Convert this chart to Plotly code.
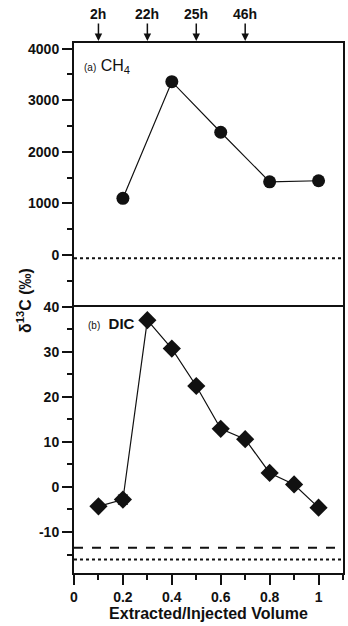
import plotly.graph_objects as go

# Panel (a) CH4
ch4_x = [0.2, 0.4, 0.6, 0.8, 1.0]
ch4_y = [1100, 3360, 2380, 1420, 1440]
ch4_ref = -60

# Panel (b) DIC
dic_x = [0.1, 0.2, 0.3, 0.4, 0.5, 0.6, 0.7, 0.8, 0.9, 1.0]
dic_y = [-4.3, -2.8, 37.0, 30.7, 22.4, 12.9, 10.6, 3.1, 0.55, -4.6]
dic_err = [0, 1.0, 0, 0, 0, 0, 0, 0, 0, 0]
dic_ref_dash = -13.5
dic_ref_dot = -16.1

# tick labels
x_tickvals = [0, 0.2, 0.4, 0.6, 0.8, 1.0]
x_ticktext = ["0", "0.2", "0.4", "0.6", "0.8", "1"]
y1_tickvals = [0, 1000, 2000, 3000, 4000]
y2_tickvals = [-10, 0, 10, 20, 30, 40]
y2_ticktext = ["-10", "0", "10", "20", "30", "40"]

# time markers on top
time_x = [0.1, 0.3, 0.5, 0.7]
time_labels = ["2h", "22h", "25h", "46h"]

FONT = "Liberation Sans"
BLACK = "#111111"

fig = go.Figure()
fig.add_trace(go.Scatter(x=ch4_x, y=ch4_y, mode="lines+markers", xaxis="x2", yaxis="y",
                         line=dict(color=BLACK, width=1.2),
                         marker=dict(symbol="circle", size=13, color=BLACK), showlegend=False))
fig.add_trace(go.Scatter(x=dic_x, y=dic_y, mode="lines+markers", xaxis="x", yaxis="y2",
                         line=dict(color=BLACK, width=1.2),
                         error_y=dict(type="data", array=dic_err, visible=True, color=BLACK,
                                      thickness=1.2, width=5),
                         marker=dict(symbol="diamond", size=14, color=BLACK), showlegend=False))

split = 0.5025
tickfont = dict(family=FONT, size=14, color=BLACK, weight="bold")
axis_common = dict(showline=True, linewidth=2, linecolor=BLACK, mirror=True,
                   ticks="outside", tickwidth=2, tickcolor=BLACK, ticklen=10,
                   showgrid=False, zeroline=False, tickfont=tickfont)

fig.update_layout(
    width=348, height=626,
    margin=dict(l=74, r=3, t=43, b=53),
    plot_bgcolor="white", paper_bgcolor="white",
    xaxis=dict(**axis_common, domain=[0, 1], anchor="y2", range=[0, 1.1],
               tickmode="array", tickvals=x_tickvals, ticktext=x_ticktext,
               minor=dict(ticks="outside", ticklen=5, tickwidth=2, tickcolor=BLACK, dtick=0.1, tick0=0),
               title=dict(text="Extracted/Injected Volume", standoff=2,
                          font=dict(family=FONT, size=16, color=BLACK, weight="bold"))),
    xaxis2=dict(showline=True, linewidth=2, linecolor=BLACK, mirror=False, side="top",
                showgrid=False, zeroline=False, showticklabels=False, ticks="",
                domain=[0, 1], anchor="y", range=[0, 1.1]),
    yaxis=dict(**axis_common, domain=[split, 1], anchor="x2", range=[-1000, 4110],
               tickmode="array", tickvals=y1_tickvals,
               minor=dict(ticks="outside", ticklen=5, tickwidth=2, tickcolor=BLACK, dtick=500, tick0=0)),
    yaxis2=dict(**axis_common, domain=[0, split], anchor="x", range=[-19.1, 40],
                tickmode="array", tickvals=y2_tickvals, ticktext=y2_ticktext,
                minor=dict(ticks="outside", ticklen=5, tickwidth=2, tickcolor=BLACK, dtick=5, tick0=0)),
)

fig.add_shape(type="line", xref="paper", yref="y", x0=0, x1=1, y0=ch4_ref, y1=ch4_ref,
              line=dict(color=BLACK, width=2, dash="dot"))
fig.add_shape(type="line", xref="paper", yref="y2", x0=0, x1=1, y0=dic_ref_dash, y1=dic_ref_dash,
              line=dict(color=BLACK, width=2, dash="dash"))
fig.add_shape(type="line", xref="paper", yref="y2", x0=0, x1=1, y0=dic_ref_dot, y1=dic_ref_dot,
              line=dict(color=BLACK, width=2, dash="dot"))

for tx, tl in zip(time_x, time_labels):
    fig.add_annotation(x=tx, xref="x2", y=1.0, yref="paper", yshift=2, text=tl,
                       showarrow=True, arrowhead=2, arrowsize=1, arrowwidth=1.5, arrowcolor=BLACK,
                       ax=0, ay=-27,
                       font=dict(family=FONT, size=14, color=BLACK, weight="bold"))

fig.add_annotation(x=0.03, xref="paper", y=0.978, yref="paper", xanchor="left", yanchor="top",
                   text="<span style='font-size:10px'>(a)</span> CH<sub>4</sub>", showarrow=False,
                   font=dict(family=FONT, size=16, color=BLACK))
fig.add_annotation(x=0.045, xref="paper", y=split - 0.012, yref="paper", xanchor="left", yanchor="top",
                   text="<span style='font-size:10px'>(b)</span>  <b>DIC</b>", showarrow=False,
                   font=dict(family=FONT, size=15, color=BLACK))

fig.add_annotation(x=0, xref="paper", xshift=-62, y=(626 - 53 - 301) / 530, yref="paper",
                   text="δ<sup>13</sup>C (‰)", showarrow=False, textangle=-90,
                   font=dict(family=FONT, size=16, color=BLACK, weight="bold"))

fig.write_html("out.html")
